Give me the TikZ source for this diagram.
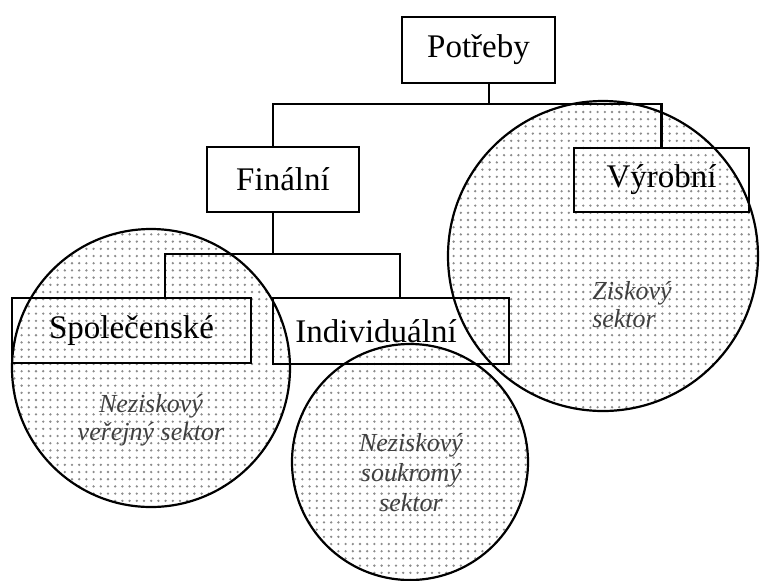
\documentclass[tikz,border=0pt]{standalone}
\usepackage{fontspec}
\setmainfont{Liberation Serif}
\usetikzlibrary{patterns.meta}

\tikzdeclarepattern{
  name=scandots,
  type=uncolored,
  bounding box={(-1.8pt,-1.8pt) and (1.8pt,1.8pt)},
  tile size={(3.6pt,3.6pt)},
  code={\fill (0,0) circle (0.65pt);}
}

\begin{document}
\begin{tikzpicture}[x=0.5pt,y=-0.5pt,
    box/.style={draw, line width=1.1pt, inner sep=0pt,
      font=\fontsize{16.5}{20}\selectfont},
    sector/.style={circle, draw, line width=1.1pt, inner sep=0pt,
      pattern=scandots, pattern color=black!45},
    sectortext/.style={align=center, text=black!75,
      font=\fontsize{13}{14}\selectfont\itshape},
    link/.style={line width=1.1pt}]
  \useasboundingbox (0,0) rectangle (761,580);

  % sectors
  \node[sector, minimum size=155pt] (zisk) at (603,256) {};
  \node[sector, minimum size=139pt] (verejny) at (151,368) {};
  \node[sector, minimum size=118pt] (soukromy) at (410,462) {};

  \node[sectortext, align=left] (ziskT) at (632,305) {Ziskový\\sektor};
  \node[sectortext] (verejnyT) at (151,420) {Neziskový\\veřejný sektor};
  \node[sectortext, font=\fontsize{13}{15}\selectfont\itshape]
    (soukromyT) at (411,473) {Neziskový\\soukromý\\sektor};

  % boxes
  \node[box, minimum width=76.5pt, minimum height=33pt] (potreby) at (478.5,50) {Potřeby};
  \node[box, minimum width=76pt, minimum height=32.5pt] (finalni) at (283,179.5) {Finální};
  \node[box, minimum width=87.5pt, minimum height=32pt] (vyrobni) at (661.5,180) {Výrobní};
  \node[box, minimum width=119.5pt, minimum height=32.5pt] (spolecenske) at (131.5,330.5) {Společenské};
  \node[box, minimum width=118pt, minimum height=33pt] (individualni) at (391,331)
    {\hspace*{-7.5pt}Individuální\hspace*{7.5pt}};

  % connectors
  \coordinate (bus1) at (0,104);
  \coordinate (bus2) at (0,254);
  \draw[link] ([xshift=5.25pt]potreby.south) -- ([xshift=5.25pt]potreby.south |- bus1);
  \draw[link] ([xshift=-5pt]finalni.north) |- (bus1 -| vyrobni.north) -- (vyrobni.north);
  \draw[link] ([xshift=-5pt]finalni.south) -- ([xshift=-5pt]finalni.south |- bus2);
  \draw[link] ([xshift=16.75pt]spolecenske.north) |- ([xshift=4.5pt]individualni.north |- bus2)
    -- ([xshift=4.5pt]individualni.north);
\end{tikzpicture}
\end{document}
